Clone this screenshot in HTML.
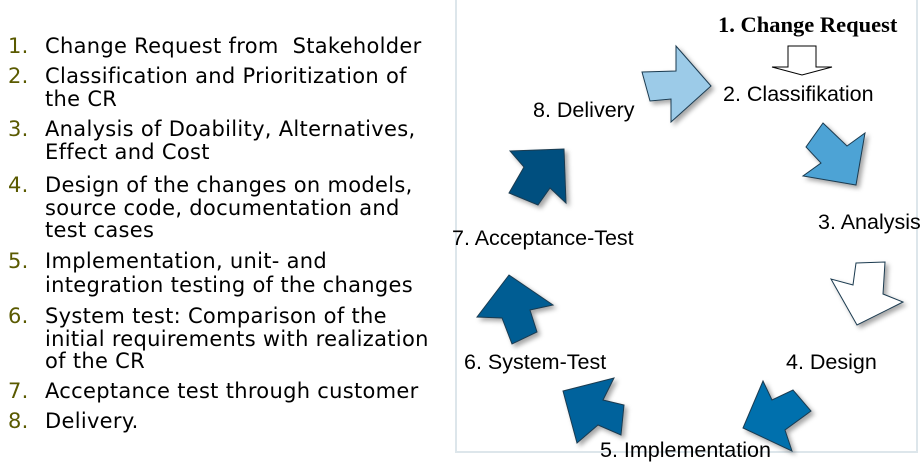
<!DOCTYPE html>
<html><head><meta charset="utf-8"><style>
body{margin:0;width:923px;height:464px;background:#fff;position:relative;overflow:hidden}
.l{position:absolute;font-family:"DejaVu Sans","Liberation Sans",sans-serif;font-size:21px;line-height:24px;color:#000;white-space:nowrap;letter-spacing:0.3px}
.n{color:#5a5a00}
.s{position:absolute;font-family:"Liberation Sans",sans-serif;font-size:21.5px;line-height:24px;white-space:nowrap}
</style></head><body>
<div class="l" style="left:8px;top:34px"><span class="n">1.</span></div><div class="l" style="left:45px;top:34px">Change Request from&nbsp; Stakeholder</div>
<div class="l" style="left:8px;top:64px"><span class="n">2.</span></div><div class="l" style="left:45px;top:64px">Classification and Prioritization of</div>
<div class="l" style="left:45px;top:87px">the CR</div>
<div class="l" style="left:8px;top:117px"><span class="n">3.</span></div><div class="l" style="left:45px;top:117px">Analysis of Doability, Alternatives,</div>
<div class="l" style="left:45px;top:140px">Effect and Cost</div>
<div class="l" style="left:8px;top:173px"><span class="n">4.</span></div><div class="l" style="left:45px;top:173px">Design of the changes on models,</div>
<div class="l" style="left:45px;top:196px">source code, documentation and</div>
<div class="l" style="left:45px;top:218px">test cases</div>
<div class="l" style="left:8px;top:249px"><span class="n">5.</span></div><div class="l" style="left:45px;top:249px">Implementation, unit- and</div>
<div class="l" style="left:45px;top:273px">integration testing of the changes</div>
<div class="l" style="left:8px;top:304px"><span class="n">6.</span></div><div class="l" style="left:45px;top:304px">System test: Comparison of the</div>
<div class="l" style="left:45px;top:327px">initial requirements with realization</div>
<div class="l" style="left:45px;top:349px">of the CR</div>
<div class="l" style="left:8px;top:379px"><span class="n">7.</span></div><div class="l" style="left:45px;top:379px">Acceptance test through customer</div>
<div class="l" style="left:8px;top:409px"><span class="n">8.</span></div><div class="l" style="left:45px;top:409px">Delivery.</div>

<div style="position:absolute;left:455px;top:-5px;width:459px;height:454px;border:2px solid #dde6eb"></div>

<svg style="position:absolute;left:0;top:0" width="923" height="464">
<defs><filter id="sh" x="-30%" y="-30%" width="160%" height="160%"><feDropShadow dx="3" dy="3" stdDeviation="2.5" flood-color="#000" flood-opacity="0.35"/></filter></defs>
<g stroke="#1a3a50" stroke-width="1" filter="url(#sh)">
<polygon fill="#9ccbe8" points="642,72 676,71 676,46 711,86 671,122 671,99 650,101"/>
<polygon fill="#4ea3d5" points="823,123 847,146 865,133 856,185 803,176 821,163 806,147"/>
<polygon fill="#ffffff" points="856,263 885,262 883,294 903,302 857,325 831,279 853,285"/>
<polygon fill="#0070ad" points="763,381 772,400 793,390 811,411 785,430 792,451 743,428"/>
<polygon fill="#00629c" points="563,391 614,378 603,400 624,405 621,435 598,425 577,443"/>
<polygon fill="#005d93" points="509,275 553,305 530,310 537,332 512,344 502,318 477,317"/>
<polygon fill="#00507f" points="510,151 564,149 566,203 550,188 538,205 509,193 524,167"/>
</g>
<polygon fill="#fff" stroke="#000" stroke-width="1" points="788,46 816,46 816,67 832,67 802,75 772,67 788,67"/>
</svg>

<div style="position:absolute;left:718px;top:12px;font-family:'Liberation Serif',serif;font-weight:bold;font-size:22.5px;line-height:26px;white-space:nowrap">1. Change Request</div>
<div class="s" style="left:723px;top:82px">2. Classifikation</div>
<div class="s" style="left:533px;top:98px">8. Delivery</div>
<div class="s" style="left:818px;top:210px">3. Analysis</div>
<div class="s" style="left:452px;top:226px">7. Acceptance-Test</div>
<div class="s" style="left:786px;top:350px">4. Design</div>
<div class="s" style="left:464px;top:350px">6. System-Test</div>
<div class="s" style="left:600px;top:438px">5. Implementation</div>
</body></html>
